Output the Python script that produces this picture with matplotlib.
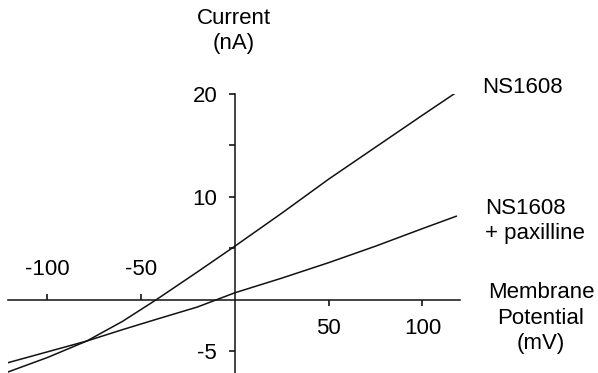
import matplotlib
matplotlib.use("Agg")
import matplotlib.pyplot as plt

# membrane potential (mV) and current (nA)
potential = [-121, -100, -79, -60, -42, -20, 0, 25, 50, 75, 100, 118]
i_ns1608 = [-7.0, -5.6, -4.0, -2.1, 0.0, 2.7, 5.2, 8.4, 11.7, 14.8, 17.9, 20.1]
i_paxilline = [-6.1, -5.05, -4.0, -2.9, -1.9, -0.7, 0.68, 2.1, 3.6, 5.2, 6.9, 8.1]

xticks_pos = [50, 100]
xticks_neg = [-100, -50]
yticks_major = [-5, 10, 20]
yticks_minor = [5, 15]

plt.rcParams['font.family'] = ['Liberation Sans', 'DejaVu Sans']
fs = 16

W, H = 598, 373
fig = plt.figure(figsize=(W / 100, H / 100), dpi=100, facecolor='w')
ax = fig.add_axes([8 / W, 0, 452 / W, (H - 93.5) / H])

ax.plot(potential, i_ns1608, '-', lw=1.1, color='#111111')
ax.plot(potential, i_paxilline, '-', lw=1.1, color='#111111')

ax.set_xlim(-121, 120)
ax.set_ylim(-7.1, 20)

for s in ('top', 'right'):
    ax.spines[s].set_visible(False)
ax.spines['left'].set_position(('data', 0))
ax.spines['bottom'].set_position(('data', 0))
for s in ('left', 'bottom'):
    ax.spines[s].set_linewidth(1.1)
    ax.spines[s].set_color('#111111')

ax.set_xticks(xticks_pos, labels=[str(v) for v in xticks_pos])
ax.set_xticks(xticks_neg, labels=[str(v) for v in xticks_neg], minor=True)
ax.set_yticks(yticks_major, labels=[str(v) for v in yticks_major])
ax.set_yticks(yticks_minor, labels=[], minor=True)

ax.tick_params(axis='x', which='major', direction='out', length=4.3, width=1.1,
               pad=9.0, labelsize=fs)
ax.tick_params(axis='x', which='minor', direction='in', length=4.3, width=1.1,
               pad=-29, labelsize=fs)
ax.tick_params(axis='y', which='both', direction='out', length=4.3, width=1.1,
               pad=8.5, labelsize=fs)
ax.patch.set_alpha(0)

fig.text(234 / W, 1 - 31 / H, "Current\n(nA)", ha='center', va='center',
         fontsize=fs, linespacing=1.25)
fig.text(482 / W, 1 - 87.5 / H, "NS1608", ha='left', va='center', fontsize=fs)
fig.text(485 / W, 1 - 221 / H, "NS1608\n+ paxilline", ha='left', va='center',
         fontsize=fs, linespacing=1.25)
fig.text(541 / W, 1 - 318 / H, "Membrane\nPotential\n(mV)", ha='center',
         va='center', fontsize=fs, linespacing=1.25)

fig.savefig("out.png", dpi=100)
